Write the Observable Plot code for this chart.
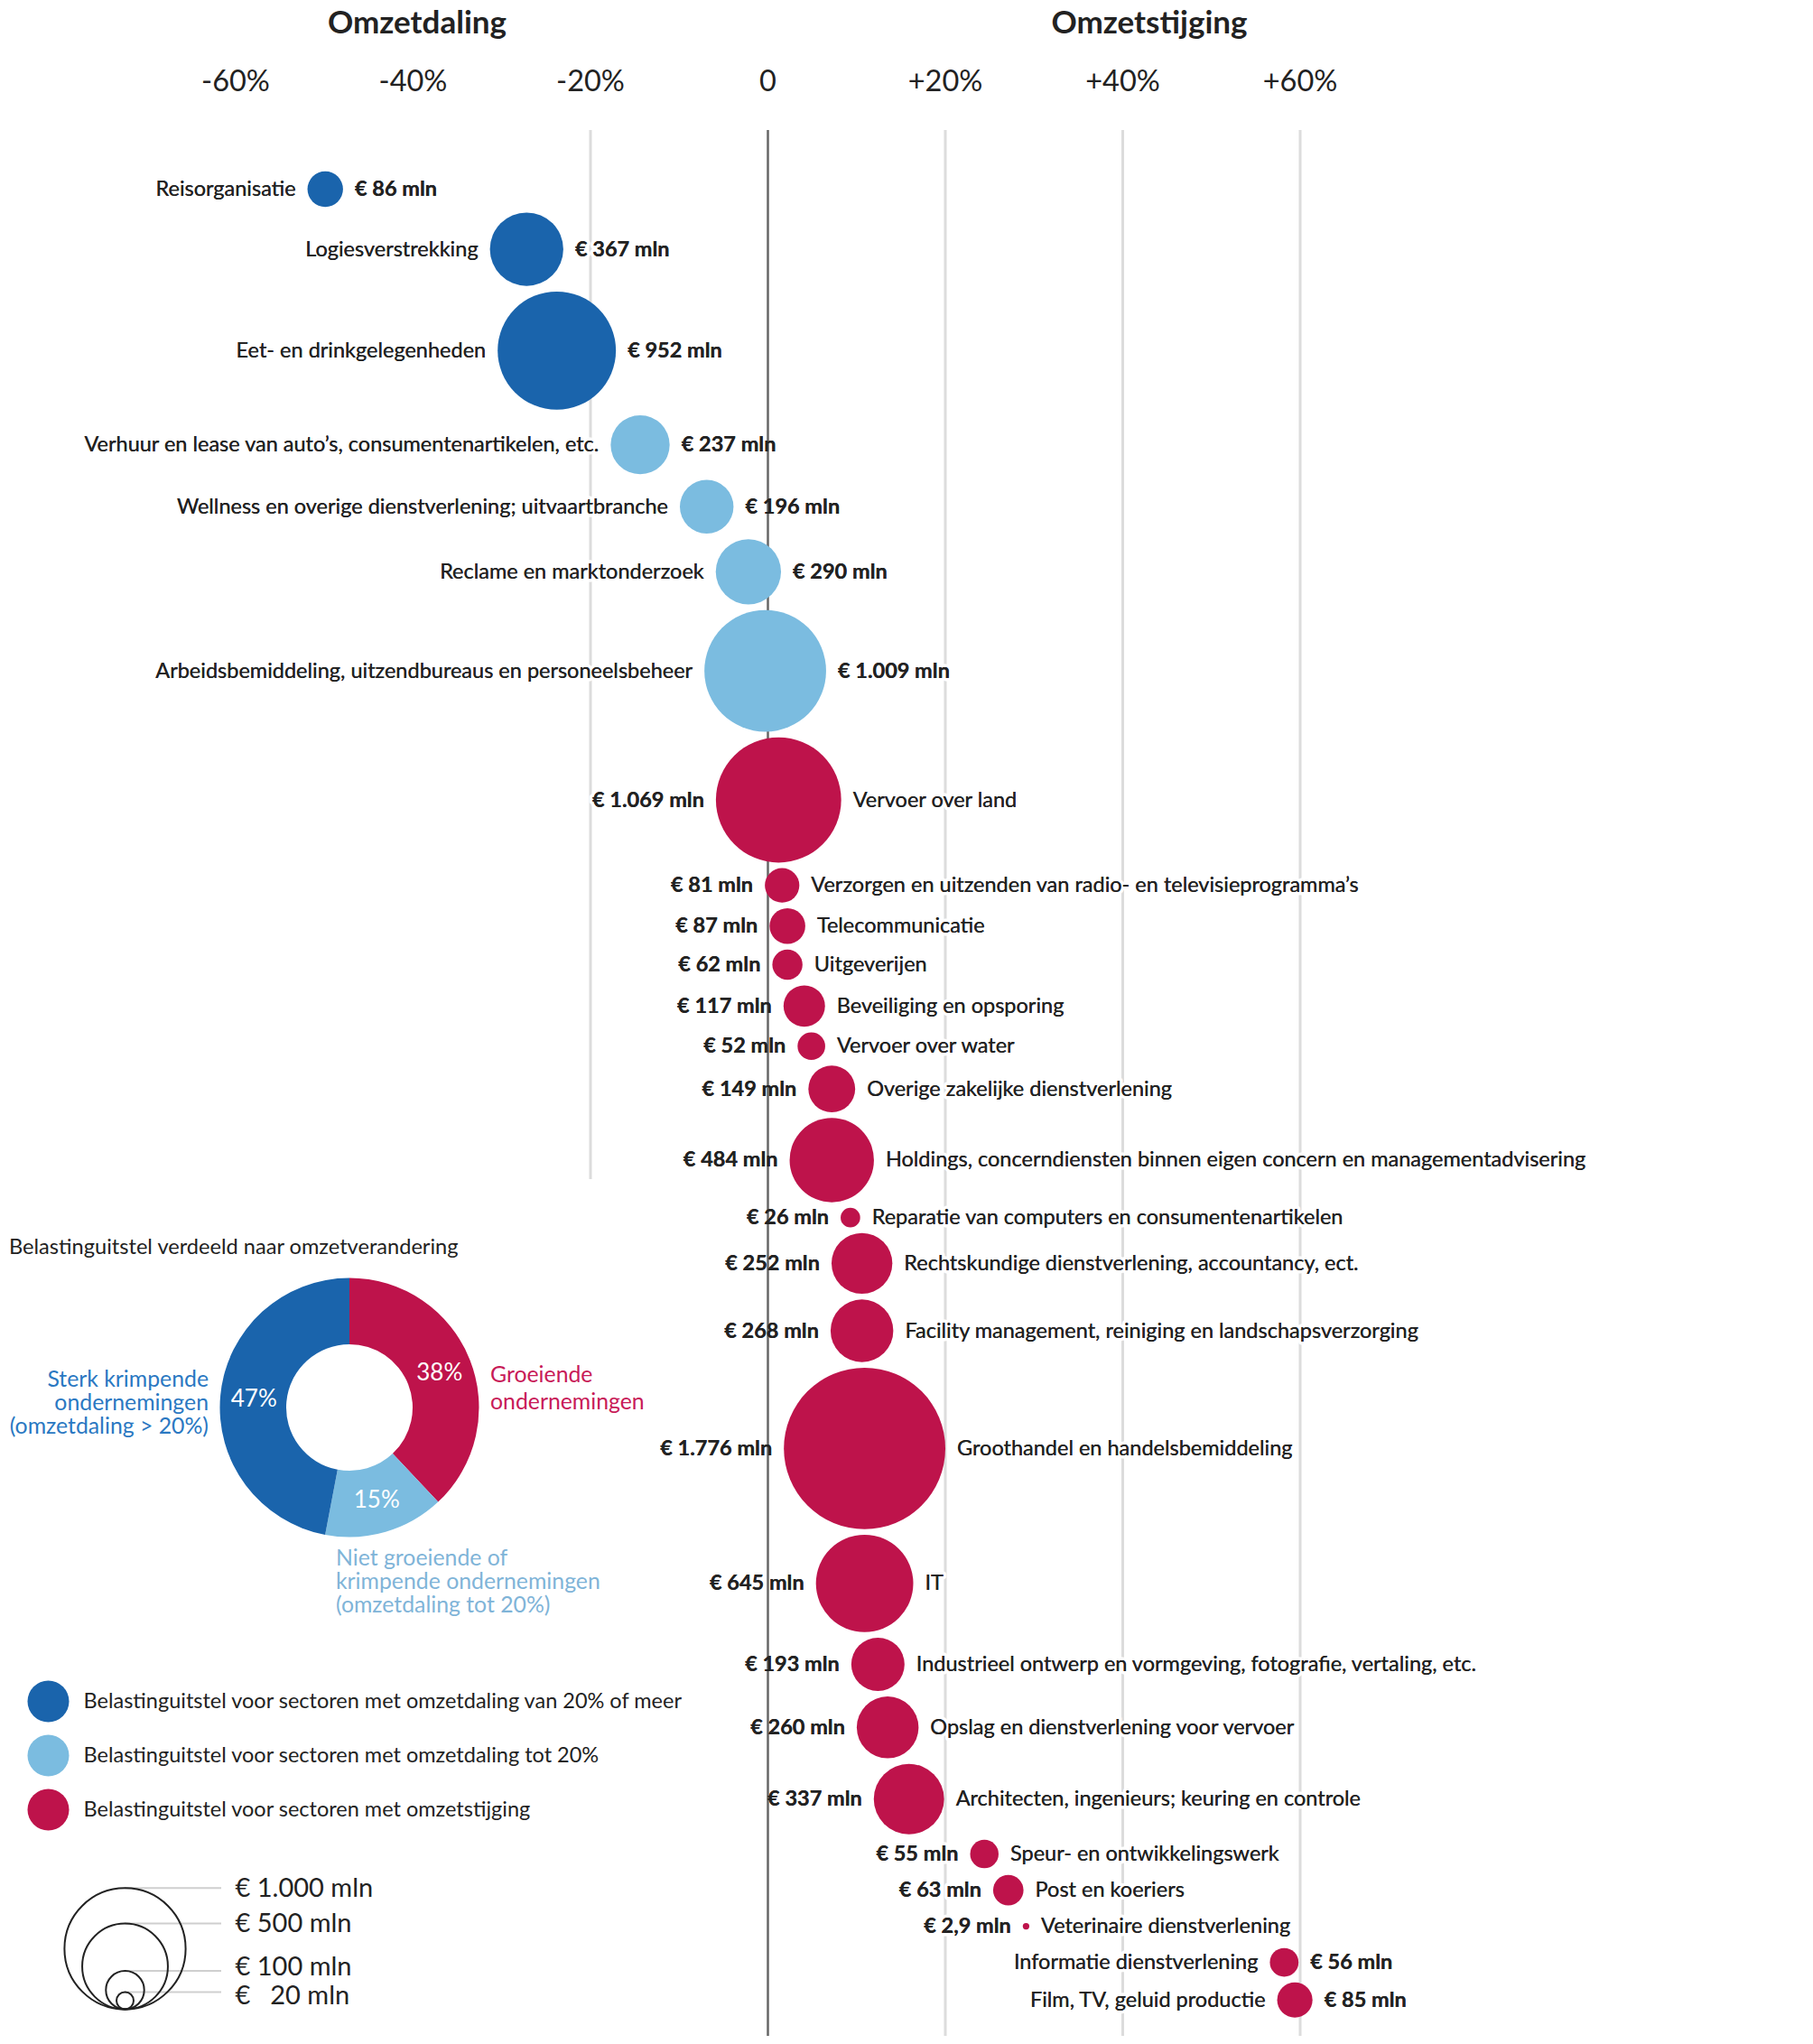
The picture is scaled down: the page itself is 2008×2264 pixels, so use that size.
<!DOCTYPE html>
<html lang="nl">
<head>
<meta charset="utf-8">
<script src="https://cdn.jsdelivr.net/npm/d3@7"></script>
<script src="https://cdn.jsdelivr.net/npm/@observablehq/plot@0.6"></script>
<style>
html,body{margin:0;padding:0;background:#fff;}
#root{position:relative;width:2008px;height:2264px;font-family:Lato,"Open Sans",sans-serif;color:#222;overflow:hidden;}
#root svg{max-width:none;}
.abs{position:absolute;white-space:nowrap;}
.head{font-weight:700;font-size:35px;transform:translate(-50%,-50%);}
.dl{font-size:24.8px;line-height:26px;}
</style>
</head>
<body>
<div id="root"></div>
<script>
// ---------------- DATA ----------------
const sectors = [
  "Reisorganisatie",
  "Logiesverstrekking",
  "Eet- en drinkgelegenheden",
  "Verhuur en lease van auto’s, consumentenartikelen, etc.",
  "Wellness en overige dienstverlening; uitvaartbranche",
  "Reclame en marktonderzoek",
  "Arbeidsbemiddeling, uitzendbureaus en personeelsbeheer",
  "Vervoer over land",
  "Verzorgen en uitzenden van radio- en televisieprogramma’s",
  "Telecommunicatie",
  "Uitgeverijen",
  "Beveiliging en opsporing",
  "Vervoer over water",
  "Overige zakelijke dienstverlening",
  "Holdings, concerndiensten binnen eigen concern en managementadvisering",
  "Reparatie van computers en consumentenartikelen",
  "Rechtskundige dienstverlening, accountancy, ect.",
  "Facility management, reiniging en landschapsverzorging",
  "Groothandel en handelsbemiddeling",
  "IT",
  "Industrieel ontwerp en vormgeving, fotografie, vertaling, etc.",
  "Opslag en dienstverlening voor vervoer",
  "Architecten, ingenieurs; keuring en controle",
  "Speur- en ontwikkelingswerk",
  "Post en koeriers",
  "Veterinaire dienstverlening",
  "Informatie dienstverlening",
  "Film, TV, geluid productie"
];
// omzetverandering in %
const changePct = [-49.9, -27.2, -23.8, -14.4, -6.9, -2.2, -0.3, 1.2, 1.6, 2.2, 2.2, 4.1, 4.9, 7.2, 7.2, 9.3, 10.6, 10.6, 10.9, 10.9, 12.4, 13.5, 15.9, 24.4, 27.1, 29.1, 58.2, 59.4];
// belastinguitstel in € mln
const amountMln = [86, 367, 952, 237, 196, 290, 1009, 1069, 81, 87, 62, 117, 52, 149, 484, 26, 252, 268, 1776, 645, 193, 260, 337, 55, 63, 2.9, 56, 85];
const groupOf = ["sterk","sterk","sterk","licht","licht","licht","licht",
  "groei","groei","groei","groei","groei","groei","groei","groei","groei","groei","groei","groei","groei","groei","groei","groei","groei","groei","groei","groei","groei"];

const groups = ["sterk", "licht", "groei"];
const groupColors = ["#1a64ac", "#7bbce0", "#be134b"];
const groupLegend = [
  "Belastinguitstel voor sectoren met omzetdaling van 20% of meer",
  "Belastinguitstel voor sectoren met omzetdaling tot 20%",
  "Belastinguitstel voor sectoren met omzetstijging"
];
const xTicks = [-60, -40, -20, 0, 20, 40, 60];

const donutGroups = ["groei", "licht", "sterk"];
const donutShares = [38, 15, 47];

const sizeSteps = [1000, 500, 100, 20];
const sizeLabels = ["€ 1.000 mln", "€ 500 mln", "€ 100 mln", "€\u2002 20 mln"];

// ---------------- LAYOUT ----------------
const W = 2008, H = 2264;
const xDomain = [-60, 60], xRange = [260.5, 1439.5];
const pxPerPct = (xRange[1] - xRange[0]) / (xDomain[1] - xDomain[0]);
const R1000 = 67.1;
const rpx = d3.scaleSqrt().domain([0, 1000]).range([0, R1000]);
const colorOf = Object.fromEntries(groups.map((g, i) => [g, groupColors[i]]));
const FONT = "Lato, sans-serif";
const LABEL_SIZE = 23.5;

// stack bubbles vertically: each row below the previous one
const TOP = 209, GAP = 6.2, MINSTEP = 40;
const ypos = [];
amountMln.forEach((v, i) => {
  if (i === 0) ypos.push(TOP);
  else ypos.push(ypos[i - 1] + Math.max(MINSTEP, rpx(amountMln[i - 1]) + rpx(v) + GAP));
});

const rows = sectors.map((name, i) => ({name, pct: changePct[i], amount: amountMln[i], group: groupOf[i], y: ypos[i]}));

const nl = d3.formatLocale({decimal: ",", thousands: ".", grouping: [3], currency: ["€", ""]});
const fmtAmount = v => Number.isInteger(v) ? nl.format(",d")(v) : nl.format(",.1f")(v);
const valueText = d => `€ ${fmtAmount(d.amount)} mln`;

const LABEL_GAP = 13;
const off = d => (rpx(d.amount) + LABEL_GAP) / pxPerPct;
const nameRight = d => d.pct >= 0 && d.pct < 40;

function labelMarks(halo) {
  const haloOpts = halo ? {stroke: "white", strokeWidth: 7, strokeLinejoin: "round", paintOrder: "stroke"} : {};
  const base = {y: "y", fontSize: LABEL_SIZE, fill: "#222", ...haloOpts};
  return [
    Plot.text(rows, {...base, filter: d => nameRight(d), x: d => d.pct + off(d), text: "name", textAnchor: "start"}),
    Plot.text(rows, {...base, filter: d => !nameRight(d), x: d => d.pct - off(d), text: "name", textAnchor: "end"}),
    Plot.text(rows, {...base, filter: d => !nameRight(d), x: d => d.pct + off(d), text: valueText, textAnchor: "start", fontWeight: "bold"}),
    Plot.text(rows, {...base, filter: d => nameRight(d), x: d => d.pct - off(d), text: valueText, textAnchor: "end", fontWeight: "bold"})
  ];
}

const root = document.getElementById("root");

// ---------------- MAIN CHART ----------------
const main = Plot.plot({
  width: W, height: H,
  marginTop: 144, marginBottom: 0, marginLeft: 0, marginRight: 0,
  style: {fontFamily: FONT, background: "transparent", color: "#222"},
  x: {domain: xDomain, range: xRange, label: null},
  y: {domain: [0, H], range: [0, H], axis: null},
  r: {type: "sqrt", domain: [0, 1000], range: [0, R1000]},
  color: {domain: groups, range: groupColors},
  marks: [
    Plot.axisX(xTicks, {anchor: "top", label: null, tickSize: 0, tickPadding: 44, fontSize: 32.5, fill: "#222",
      tickFormat: d => d > 0 ? `+${d}%` : d < 0 ? `${d}%` : "0"}),
    Plot.ruleX([-20], {y1: 144, y2: 1306, stroke: "#dcdcdc", strokeWidth: 3}),
    Plot.ruleX([20, 40, 60], {y1: 144, y2: 2255, stroke: "#dcdcdc", strokeWidth: 3}),
    ...labelMarks(true),
    Plot.ruleX([0], {y1: 144, y2: 2255, stroke: "#666", strokeWidth: 2.5}),
    Plot.dot(rows, {x: "pct", y: "y", r: "amount", fill: "group"}),
    ...labelMarks(false)
  ]
});
main.style.position = "absolute"; main.style.left = "0px"; main.style.top = "0px";
root.appendChild(main);

// ---------------- HEADERS ----------------
function addText(html, css, cls) {
  const div = document.createElement("div");
  div.className = "abs " + (cls || "");
  div.innerHTML = html;
  Object.assign(div.style, css);
  root.appendChild(div);
  return div;
}
addText("Omzetdaling", {left: "462px", top: "23px"}, "head");
addText("Omzetstijging", {left: "1273px", top: "23px"}, "head");

// ---------------- DONUT ----------------
addText("Belastinguitstel verdeeld naar omzetverandering", {left: "10px", top: "1380px", fontSize: "23.6px", transform: "translateY(-50%)"});

const donutRows = donutGroups.map((g, i) => ({group: g, share: donutShares[i]}));
const pieArcs = d3.pie().sort(null).value(d => d.share)(donutRows);
const arcGen = d3.arc().innerRadius(70).outerRadius(143.5);
const DW = 760, DH = 420, DCX = 387, DCY = 159;
const donut = Plot.plot({
  width: DW, height: DH, marginTop: 0, marginBottom: 0, marginLeft: 0, marginRight: 0,
  style: {fontFamily: FONT, background: "transparent"},
  x: {domain: [0, DW], range: [0, DW], axis: null},
  y: {domain: [0, DH], range: [0, DH], axis: null},
  marks: [
    () => {
      const g = d3.create("svg:g").attr("transform", `translate(${DCX},${DCY})`);
      g.selectAll("path").data(pieArcs).join("path").attr("d", arcGen).attr("fill", d => colorOf[d.data.group]);
      return g.node();
    },
    Plot.text(pieArcs, {x: d => DCX + arcGen.centroid(d)[0], y: d => DCY + arcGen.centroid(d)[1],
      text: d => d.data.share + "%", fill: "white", fontSize: 26})
  ]
});
donut.style.position = "absolute"; donut.style.left = "0px"; donut.style.top = "1400px";
root.appendChild(donut);

addText("Sterk krimpende<br>ondernemingen<br>(omzetdaling &gt; 20%)", {left: "0px", width: "231px", textAlign: "right", top: "1514px", color: "#2a78c2"}, "dl");
addText("Groeiende<br>ondernemingen", {left: "543px", top: "1507px", color: "#c81a57", lineHeight: "30px"}, "dl");
addText("Niet groeiende of<br>krimpende ondernemingen<br>(omzetdaling tot 20%)", {left: "372px", top: "1712px", color: "#7fb4d8"}, "dl");

// ---------------- COLOUR LEGEND ----------------
const legend = Plot.plot({
  width: 820, height: 200, marginTop: 0, marginBottom: 0, marginLeft: 53, marginRight: 0,
  style: {fontFamily: FONT, background: "transparent"},
  y: {type: "point", domain: groups, range: [40, 160], padding: 0, axis: null},
  color: {domain: groups, range: groupColors},
  marks: [
    Plot.dot(groups, {y: d => d, fill: d => d, r: 23, frameAnchor: "left"}),
    Plot.text(groups, {y: d => d, text: (d, i) => groupLegend[i], frameAnchor: "left", dx: 39, textAnchor: "start", fontSize: 23.5, fill: "#222"})
  ]
});
legend.style.position = "absolute"; legend.style.left = "0px"; legend.style.top = "1844px";
root.appendChild(legend);

// ---------------- SIZE LEGEND ----------------
const SW = 520, SH = 204, SBASE = 165, SCX = 138, SLABEL_MIN = 32;
const sizeTops = sizeSteps.map(v => SBASE - 2 * rpx(v));
// keep labels apart: push neighbouring labels symmetrically
const sizeLabelY = sizeTops.slice();
for (let i = 1; i < sizeLabelY.length; i++) {
  const d = sizeLabelY[i] - sizeLabelY[i - 1];
  if (d < SLABEL_MIN) { const s = (SLABEL_MIN - d) / 2; sizeLabelY[i - 1] -= s; sizeLabelY[i] += s; }
}
const sizeLegend = Plot.plot({
  width: SW, height: SH, marginTop: 0, marginBottom: 0, marginLeft: SCX, marginRight: 0,
  style: {fontFamily: FONT, background: "transparent"},
  x: {domain: [SCX, SW], range: [SCX, SW], axis: null},
  y: {domain: [0, SH], range: [0, SH], axis: null},
  r: {type: "sqrt", domain: [0, 1000], range: [0, R1000]},
  marks: [
    Plot.ruleY(sizeSteps, {y: (d, i) => sizeTops[i], x1: SCX, x2: 245, stroke: "#cfcfcf", strokeWidth: 2}),
    Plot.dot(sizeSteps, {y: d => SBASE - rpx(d), r: d => d, frameAnchor: "left", stroke: "#222", strokeWidth: 2, fill: "none"}),
    Plot.text(sizeSteps, {y: (d, i) => sizeLabelY[i], text: (d, i) => sizeLabels[i], frameAnchor: "left", dx: 122, textAnchor: "start", fontSize: 29, fill: "#222"})
  ]
});
sizeLegend.style.position = "absolute"; sizeLegend.style.left = "0px"; sizeLegend.style.top = "2060px";
root.appendChild(sizeLegend);
</script>
</body>
</html>
